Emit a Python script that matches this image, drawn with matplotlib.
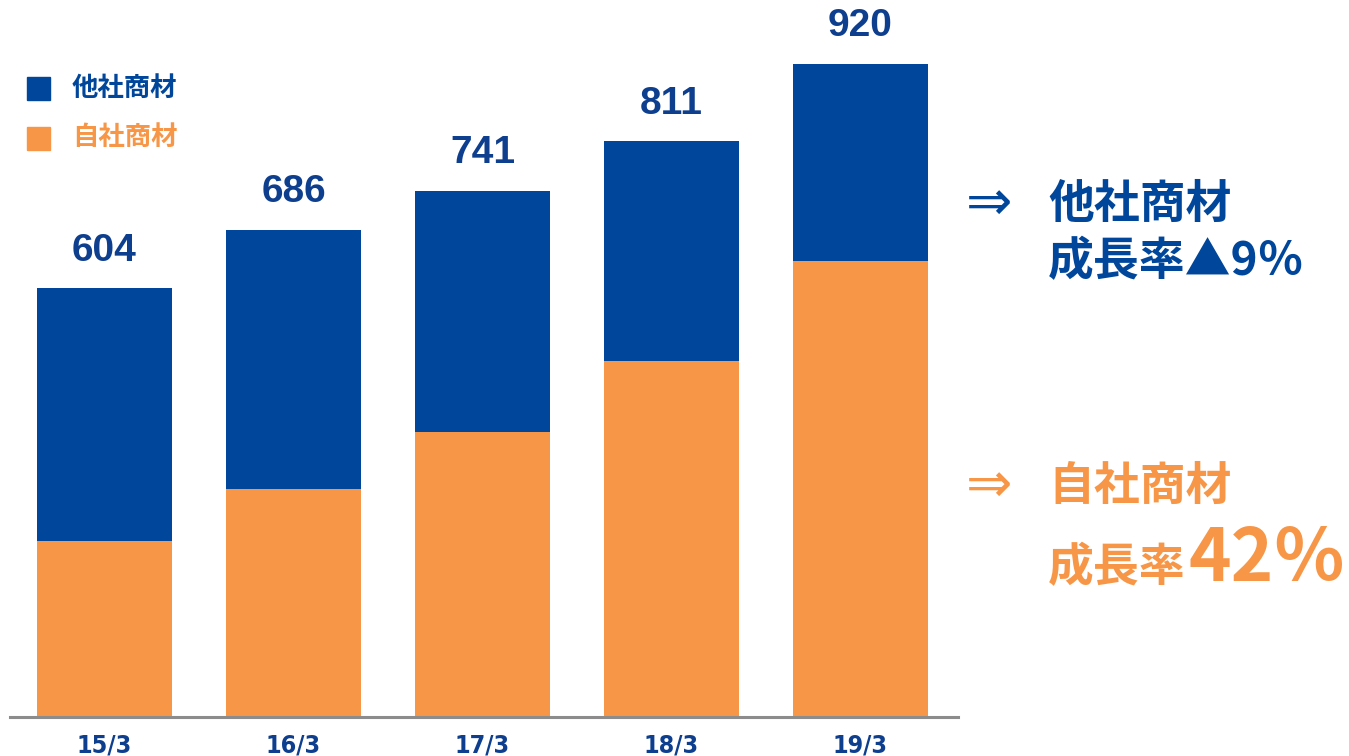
import matplotlib
matplotlib.use("Agg")
import matplotlib.pyplot as plt
import matplotlib.patches as mpatches

# values
periods = ["15/3", "16/3", "17/3", "18/3", "19/3"]
own_products = [248, 321, 401, 501, 642]      # 自社商材
other_products = [356, 365, 340, 310, 278]    # 他社商材
totals = [604, 686, 741, 811, 920]

BLUE = "#00469B"
ORANGE = "#F79646"
LABEL_BLUE = "#0E3F8E"

plt.rcParams["font.family"] = ["Noto Sans CJK JP", "DejaVu Sans"]

fig = plt.figure(figsize=(13.49, 7.56), dpi=100)
ax = fig.add_axes([10 / 1349, 1 - 717 / 756, 948 / 1349, 710 / 756])

x = list(range(len(periods)))
ax.bar(x, own_products, width=0.714, color=ORANGE, zorder=2)
ax.bar(x, other_products, bottom=own_products, width=0.714, color=BLUE, zorder=2)

# totals above bars
for xi, total in zip(x, totals):
    ax.annotate(str(total), (xi, total), xytext=(0, 14),
                textcoords="offset points", ha="center", va="bottom", fontsize=28,
                fontweight="bold", color=LABEL_BLUE, family="Liberation Sans")

ax.set_xlim(-0.5, 4.516)
ax.set_ylim(0, 1000)
ax.set_yticks([])
ax.set_xticks(x)
ax.set_xticklabels(periods, fontsize=18, fontweight="bold", color=LABEL_BLUE,
                   family="DejaVu Sans", fontstretch="condensed")
ax.tick_params(axis="x", length=0, pad=12)
for side in ["top", "right", "left"]:
    ax.spines[side].set_visible(False)
ax.spines["bottom"].set_color("#8C8C8C")
ax.spines["bottom"].set_linewidth(2.2)

# legend
fig.patches.append(mpatches.Rectangle((27 / 1349, 1 - 100 / 756), 23 / 1349, 23 / 756,
                                      color=BLUE, transform=fig.transFigure))
fig.patches.append(mpatches.Rectangle((27 / 1349, 1 - 150 / 756), 23 / 1349, 23 / 756,
                                      color=ORANGE, transform=fig.transFigure))
fig.text(72 / 1349, 1 - 88 / 756, "他社商材", fontsize=19, fontweight="bold",
         color=BLUE, va="center", ha="left")
fig.text(72 / 1349, 1 - 137 / 756, "自社商材", fontsize=19, fontweight="bold",
         color=ORANGE, va="center", ha="left")

# right-side notes
fig.text(966 / 1349, 1 - 205 / 756, "⇒", fontsize=40, color=BLUE, va="center",
         ha="left", family=["DejaVu Sans"])
fig.text(1048 / 1349, 1 - 205 / 756, "他社商材", fontsize=33, fontweight="bold",
         color=BLUE, va="center", ha="left")
fig.text(1048 / 1349, 1 - 262 / 756, "成長率▲9％", fontsize=33, fontweight="bold",
         color=BLUE, va="center", ha="left")

fig.text(966 / 1349, 1 - 487 / 756, "⇒", fontsize=40, color=ORANGE, va="center",
         ha="left", family=["DejaVu Sans"])
fig.text(1048 / 1349, 1 - 487 / 756, "自社商材", fontsize=33, fontweight="bold",
         color=ORANGE, va="center", ha="left")
fig.text(1048 / 1349, 1 - 568 / 756, "成長率", fontsize=33, fontweight="bold",
         color=ORANGE, va="center", ha="left")
fig.text(1188 / 1349, 1 - 560 / 756, "42％", fontsize=52, fontweight="bold",
         color=ORANGE, va="center", ha="left")

fig.savefig("out.png", dpi=100)
